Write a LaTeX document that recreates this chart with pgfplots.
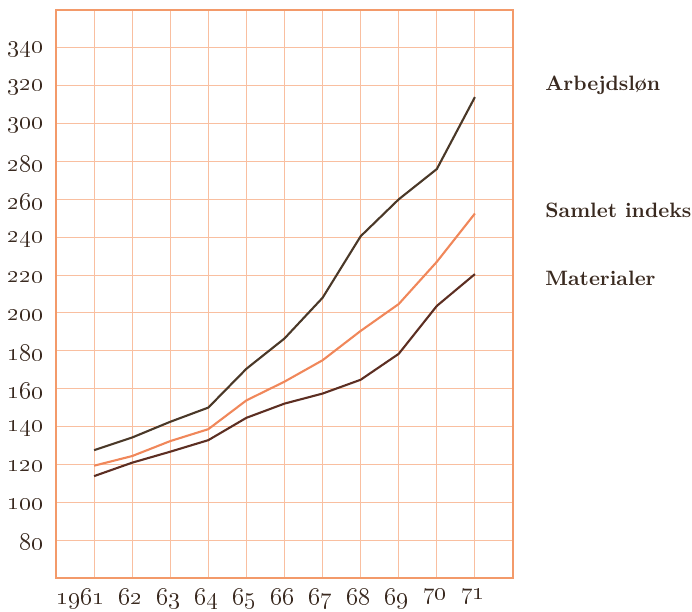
\documentclass[border=0pt]{standalone}
\usepackage{pgfplots}
\pgfplotsset{compat=1.18}
\definecolor{frameC}{HTML}{F39A6A}
\definecolor{gridC}{HTML}{F9BFA0}
\definecolor{arbC}{HTML}{4A3828}
\definecolor{samC}{HTML}{F0875A}
\definecolor{matC}{HTML}{5C2E22}
\definecolor{txtC}{HTML}{3A2A20}
\begin{document}
\begin{tikzpicture}
\begin{axis}[
  scale only axis,
  width=228.5pt, height=284pt,
  xmin=1960, xmax=1972, ymin=60, ymax=360,
  xtick={1961,...,1971},
  ytick={80,100,...,340},
  xticklabels={\llap{\oldstylenums{19}}\oldstylenums{61},\oldstylenums{62},\oldstylenums{63},\oldstylenums{64},\oldstylenums{65},\oldstylenums{66},\oldstylenums{67},\oldstylenums{68},\oldstylenums{69},\oldstylenums{70},\oldstylenums{71}},
  yticklabels={\oldstylenums{80},\oldstylenums{100},\oldstylenums{120},\oldstylenums{140},\oldstylenums{160},\oldstylenums{180},\oldstylenums{200},\oldstylenums{220},\oldstylenums{240},\oldstylenums{260},\oldstylenums{280},\oldstylenums{300},\oldstylenums{320},\oldstylenums{340}},
  grid=major,
  major grid style={gridC, line width=0.5pt},
  axis line style={frameC, line width=0.8pt},
  tick style={draw=none},
  ticklabel style={font=\fontsize{11.8}{14}\selectfont, text=txtC},
  xticklabel style={yshift=-2pt, xshift=-1pt},
  yticklabel style={xshift=-3pt, yshift=-1pt},
  clip=false,
]
\addplot[arbC, line width=1.05pt] coordinates {
(1961,127.5) (1962,134.2) (1963,142.5) (1964,150) (1965,170.5) (1966,186.5) (1967,208) (1968,240.5) (1969,260) (1970,276) (1971,314)};
\addplot[samC, line width=1.05pt] coordinates {
(1961,119.3) (1962,124.4) (1963,132.3) (1964,138.6) (1965,153.8) (1966,163.7) (1967,175) (1968,190.5) (1969,204.7) (1970,227) (1971,252.5)};
\addplot[matC, line width=1.05pt] coordinates {
(1961,113.8) (1962,120.9) (1963,126.7) (1964,132.8) (1965,144.6) (1966,152.1) (1967,157.4) (1968,164.7) (1969,178.4) (1970,203.7) (1971,220.5)};
\node[anchor=west, inner sep=0pt, font=\fontsize{10.4}{12}\selectfont\bfseries, text=txtC] at ([xshift=16pt]axis cs:1972,320) {Arbejdsløn};
\node[anchor=west, inner sep=0pt, font=\fontsize{10.4}{12}\selectfont\bfseries, text=txtC] at ([xshift=16pt]axis cs:1972,254) {Samlet indeks};
\node[anchor=west, inner sep=0pt, font=\fontsize{10.4}{12}\selectfont\bfseries, text=txtC] at ([xshift=16pt]axis cs:1972,218) {Materialer};
\coordinate (SW) at (rel axis cs:0,0);
\coordinate (NE) at (rel axis cs:1,1);
\end{axis}
\pgfresetboundingbox
\path ([shift={(-28pt,-17pt)}]SW) rectangle ([shift={(89.5pt,5pt)}]NE);
\end{tikzpicture}
\end{document}
